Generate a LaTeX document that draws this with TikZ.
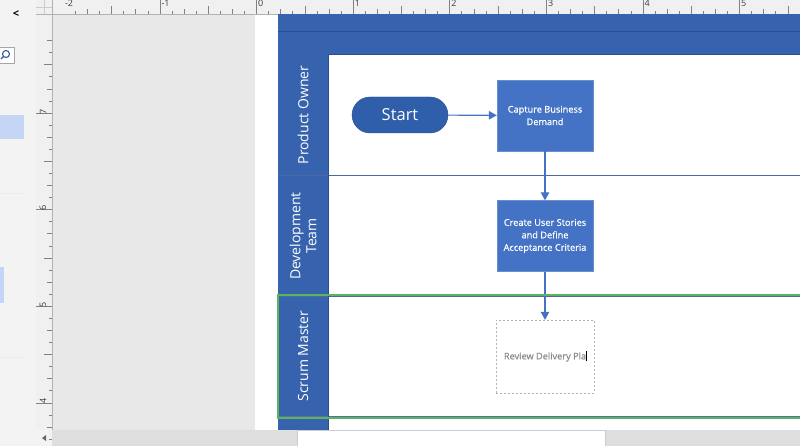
\documentclass[tikz,border=0pt]{standalone}
\usepackage{fontspec}
\setmainfont{Open Sans}
\newfontfamily\boxfont[FakeBold=0.7]{Open Sans}
\usetikzlibrary{arrows.meta}
\definecolor{panelbg}{RGB}{243,243,243}
\definecolor{canvasbg}{RGB}{232,232,232}
\definecolor{rulerbg}{RGB}{240,240,240}
\definecolor{tickc}{RGB}{130,130,130}
\definecolor{lanec}{RGB}{54,98,174}
\definecolor{lanedark}{RGB}{40,78,145}
\definecolor{boxc}{RGB}{68,114,196}
\definecolor{startc}{RGB}{47,94,170}
\definecolor{selc}{RGB}{92,180,92}
\definecolor{hlc}{RGB}{197,213,245}
\definecolor{scrollc}{RGB}{222,222,222}
\tikzset{
  procbox/.style={draw=boxc!80!white, fill=boxc, minimum width=96, minimum height=71,
    text=white, align=center, inner sep=2, font=\boxfont\fontsize{9.2}{12.5}\selectfont},
  startbox/.style={draw=lanedark, fill=startc, rounded corners=18, minimum width=96,
    minimum height=36, text=white, font=\fontsize{16.5}{18}\selectfont},
  newbox/.style={draw=black!30, dashed, dash pattern=on 2pt off 2pt, minimum width=98,
    minimum height=73, text=black!45, font=\boxfont\fontsize{9.2}{12}\selectfont},
  lanelabel/.style={rotate=90, text=white, align=center, font=\fontsize{14}{16}\selectfont},
  flow/.style={draw=boxc, line width=1.1, -{Triangle[length=8,width=8.5]}},
  rulernum/.style={text=black!75, font=\fontsize{9}{9}\selectfont, inner sep=0}
}
\begin{document}
\begin{tikzpicture}[x=1pt,y=-1pt]
\useasboundingbox (0,0) rectangle (800,446);
% backgrounds
\fill[panelbg] (0,0) rectangle (800,446);
\fill[canvasbg] (52,14) rectangle (800,430);
\fill[white] (255,14) rectangle (800,430);
% left panel bits
\node[font=\bfseries\fontsize{11}{12}\selectfont, inner sep=0] (chev) at (16,14) {<};
\draw[black!35, fill=white] (-2,47) rectangle (14,63);
\draw[boxc!80!black, line width=1.1] (6,54) circle (3.5);
\draw[boxc!80!black, line width=1.3] (3.5,56.5) -- (1,59);
\fill[hlc] (0,115) rectangle (24,139);
\fill[hlc] (0,267) rectangle (4,303);
\draw[black!8] (0,193) -- (24,193);
\draw[black!8] (0,357) -- (24,357);
% rulers
\fill[rulerbg] (36,0) rectangle (800,14);
\fill[rulerbg] (36,14) rectangle (52,430);
\draw[black!30] (36,14) -- (800,14);
\draw[black!30] (52,0) -- (52,430);
\draw[black!20] (44,0) -- (44,14);
\draw[black!20] (36,7) -- (52,7);
\foreach \k in {-15,...,45} {
  \pgfmathsetmacro\xx{256.5+\k*96.6/8}
  \pgfmathtruncatemacro\m{mod(\k+80,8)}
  \pgfmathsetmacro\len{\m==0 ? 14 : (\m==4 ? 8 : (mod(\m,2)==0 ? 5 : 3))}
  \draw[tickc, line width=0.6] (\xx,14) -- (\xx,14-\len);
}
\foreach \v in {-2,-1,0,1,2,3,4,5} {
  \pgfmathsetmacro\xx{256.5+\v*96.6+1.5}
  \node[rulernum, anchor=north west] (h\v) at (\xx,0) {\v};
}
\foreach \k in {-6,...,28} {
  \pgfmathsetmacro\yy{113+\k*96.6/8}
  \pgfmathtruncatemacro\m{mod(\k+80,8)}
  \pgfmathsetmacro\len{\m==0 ? 16 : (\m==4 ? 8 : (mod(\m,2)==0 ? 5 : 3))}
  \draw[tickc, line width=0.6] (52,\yy) -- (52-\len,\yy);
}
\foreach \v in {7,6,5,4} {
  \pgfmathsetmacro\yy{113+(7-\v)*96.6-1.5}
  \node[rulernum, rotate=90, anchor=south] (v\v) at (46.5,\yy) {\v};
}
% scroll bar
\fill[scrollc] (52,430) rectangle (800,446);
\draw[black!20, fill=white] (297,430.5) rectangle (605,447);
\fill[black!60] (46,435) -- (46,441) -- (42,438) -- cycle;
% swimlanes
\fill[lanec] (278,14) rectangle (800,54);
\draw[lanedark, line width=0.8] (278,31) -- (800,31);
\draw[lanedark, line width=0.8] (278,54) -- (800,54);
\fill[lanec] (278,54) rectangle (328,430);
\draw[lanedark!85!white, line width=0.8] (278,175.5) -- (800,175.5);
\draw[lanedark!85!white, line width=0.8] (278,296) -- (800,296);
\draw[lanedark!80!white, line width=1] (278,416) -- (800,416);
\draw[lanedark, line width=0.6] (328,54) -- (328,430);
\node[lanelabel] (po) at (303,115) {Product Owner};
\node[lanelabel] (dt) at (303,236) {Development\\Team};
\node[lanelabel] (sm) at (303,356) {Scrum Master};
% shapes
\node[startbox] (start) at (400,115) {Start};
\node[procbox] (cap) at (545,115.5) {Capture Business\\Demand};
\node[procbox] (cus) at (545,236) {Create User Stories\\and Define\\Acceptance Criteria};
\node[newbox] (rev) at (545,356.5) {Review Delivery Pla\rlap{\textcolor{black}{\rule[-2pt]{0.5pt}{10pt}}}};
\draw[flow] (start) -- (cap);
\draw[flow] (cap) -- (cus);
\draw[flow] (cus) -- (rev);
% selection
\draw[selc, line width=2] (277.5,295) -- (800,295);
\draw[selc, line width=2] (277.5,418) -- (800,418);
\draw[selc, line width=2] (277.5,294) -- (277.5,419);
\end{tikzpicture}
\end{document}
